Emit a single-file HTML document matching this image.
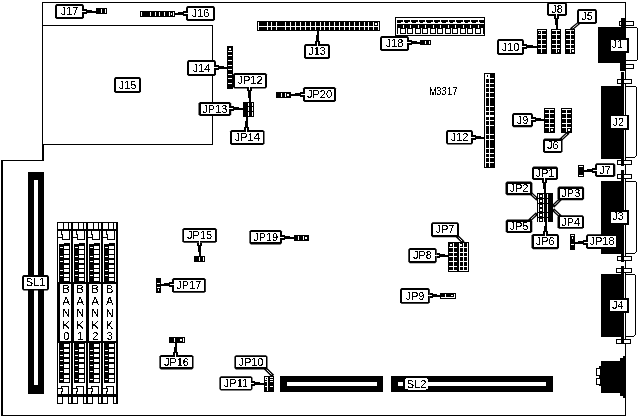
<!DOCTYPE html>
<html><head><meta charset="utf-8"><style>
html,body{margin:0;padding:0;background:#fff;width:639px;height:417px;overflow:hidden}
svg{display:block;filter:grayscale(100%)}
text{font-family:"Liberation Sans",sans-serif}
rect{shape-rendering:crispEdges}
.aa rect{shape-rendering:geometricPrecision}
</style></head><body>
<svg width="639" height="417" viewBox="0 0 639 417">
<defs><filter id="th" x="-10%" y="-10%" width="120%" height="120%"><feComponentTransfer><feFuncA type="discrete" tableValues="0 0 0 0 0 0 0 0 0 1 1 1 1 1 1 1 1 1 1 1"/></feComponentTransfer></filter></defs>
<rect x="0" y="0" width="639" height="417" fill="#fff"/>
<rect x="42" y="2" width="584" height="1" fill="#000"/>
<rect x="625" y="2" width="1" height="413" fill="#000"/>
<rect x="1" y="415" width="625" height="1" fill="#000"/>
<rect x="1" y="160" width="2" height="256" fill="#000"/>
<rect x="1" y="160" width="43" height="1" fill="#000"/>
<rect x="42" y="2" width="1" height="159" fill="#000"/>
<rect x="42" y="144" width="2" height="17" fill="#000"/>
<rect x="42" y="25" width="171" height="1" fill="#000"/>
<rect x="212" y="25" width="1" height="120" fill="#000"/>
<rect x="42" y="144" width="171" height="1" fill="#000"/>
<rect x="84" y="9" width="3" height="5" fill="#000"/>
<rect x="87" y="10" width="5" height="3" fill="#000"/>
<rect x="92" y="11" width="4" height="2" fill="#000"/>
<rect x="96" y="8" width="11" height="6" fill="#000"/>
<rect x="101" y="9" width="1" height="4" fill="#fff"/>
<rect x="105" y="9" width="1" height="4" fill="#fff"/>
<polygon points="56.5,4 82.5,4 84,5.5 84,17.5 82.5,19 56.5,19 55,17.5 55,5.5" fill="#000"/>
<rect x="57" y="6" width="25" height="11" fill="#fff"/>
<rect x="82" y="11" width="4" height="1" fill="#fff"/>
<text x="69.5" y="15.1" font-size="11" text-anchor="middle" fill="#000" filter="url(#th)" >J17</text>
<rect x="140" y="11" width="35" height="6" fill="#000"/>
<rect x="141" y="12" width="1" height="4" fill="#fff"/>
<rect x="150" y="12" width="1" height="4" fill="#fff"/>
<rect x="155" y="12" width="1" height="4" fill="#fff"/>
<rect x="159" y="12" width="1" height="4" fill="#fff"/>
<rect x="164" y="12" width="1" height="4" fill="#fff"/>
<rect x="169" y="12" width="1" height="4" fill="#fff"/>
<rect x="173" y="12" width="1" height="4" fill="#fff"/>
<rect x="171" y="13" width="1" height="2" fill="#fff"/>
<rect x="183" y="11" width="3" height="5" fill="#000"/>
<rect x="178" y="12" width="5" height="3" fill="#000"/>
<rect x="175" y="13" width="3" height="2" fill="#000"/>
<polygon points="187.5,6 213.5,6 215,7.5 215,19.5 213.5,21 187.5,21 186,19.5 186,7.5" fill="#000"/>
<rect x="188" y="8" width="25" height="11" fill="#fff"/>
<rect x="184" y="13" width="4" height="1" fill="#fff"/>
<text x="200.5" y="17.1" font-size="11" text-anchor="middle" fill="#000" filter="url(#th)" >J16</text>
<rect x="257" y="21" width="123" height="10" fill="#000"/>
<rect x="258" y="26" width="121" height="1" fill="#fff"/>
<rect x="258" y="22" width="1" height="8" fill="#fff"/>
<rect x="267" y="22" width="1" height="8" fill="#fff"/>
<rect x="271" y="22" width="1" height="8" fill="#fff"/>
<rect x="276" y="22" width="1" height="8" fill="#fff"/>
<rect x="285" y="22" width="1" height="8" fill="#fff"/>
<rect x="290" y="22" width="1" height="8" fill="#fff"/>
<rect x="295" y="22" width="1" height="8" fill="#fff"/>
<rect x="300" y="22" width="1" height="8" fill="#fff"/>
<rect x="305" y="22" width="1" height="8" fill="#fff"/>
<rect x="310" y="22" width="1" height="8" fill="#fff"/>
<rect x="315" y="22" width="1" height="8" fill="#fff"/>
<rect x="320" y="22" width="1" height="8" fill="#fff"/>
<rect x="324" y="22" width="1" height="8" fill="#fff"/>
<rect x="329" y="22" width="1" height="8" fill="#fff"/>
<rect x="334" y="22" width="1" height="8" fill="#fff"/>
<rect x="339" y="22" width="1" height="8" fill="#fff"/>
<rect x="344" y="22" width="1" height="8" fill="#fff"/>
<rect x="349" y="22" width="1" height="8" fill="#fff"/>
<rect x="354" y="22" width="1" height="8" fill="#fff"/>
<rect x="359" y="22" width="1" height="8" fill="#fff"/>
<rect x="364" y="22" width="1" height="8" fill="#fff"/>
<rect x="368" y="22" width="1" height="8" fill="#fff"/>
<rect x="373" y="22" width="1" height="8" fill="#fff"/>
<rect x="378" y="22" width="1" height="8" fill="#fff"/>
<rect x="375" y="23" width="2" height="2" fill="#fff"/>
<rect x="315" y="41" width="5" height="3" fill="#000"/>
<rect x="316" y="35" width="3" height="6" fill="#000"/>
<rect x="317" y="31" width="2" height="4" fill="#000"/>
<polygon points="305.5,44 328.5,44 330,45.5 330,57.5 328.5,59 305.5,59 304,57.5 304,45.5" fill="#000"/>
<rect x="306" y="46" width="22" height="11" fill="#fff"/>
<rect x="317" y="42" width="1" height="4" fill="#fff"/>
<text x="317.0" y="55.1" font-size="11" text-anchor="middle" fill="#000" filter="url(#th)" >J13</text>
<rect x="395" y="17" width="90" height="19" fill="#000"/>
<rect x="396" y="18" width="88" height="17" fill="#fff"/>
<rect x="397" y="20" width="87" height="3" fill="#000"/>
<rect x="397" y="24" width="87" height="10" fill="#000"/>
<rect x="403" y="20" width="1" height="2" fill="#fff"/>
<rect x="401" y="22" width="4" height="1" fill="#fff"/>
<rect x="403" y="25" width="1" height="3" fill="#fff"/>
<rect x="401" y="29" width="4" height="4" fill="#fff"/>
<rect x="406" y="28" width="1" height="6" fill="#fff"/>
<rect x="410" y="20" width="1" height="2" fill="#fff"/>
<rect x="408" y="22" width="4" height="1" fill="#fff"/>
<rect x="410" y="25" width="1" height="3" fill="#fff"/>
<rect x="408" y="29" width="4" height="4" fill="#fff"/>
<rect x="413" y="28" width="2" height="6" fill="#fff"/>
<rect x="418" y="20" width="1" height="2" fill="#fff"/>
<rect x="416" y="22" width="4" height="1" fill="#fff"/>
<rect x="418" y="25" width="1" height="3" fill="#fff"/>
<rect x="416" y="29" width="4" height="4" fill="#fff"/>
<rect x="421" y="28" width="1" height="6" fill="#fff"/>
<rect x="425" y="20" width="1" height="2" fill="#fff"/>
<rect x="423" y="22" width="4" height="1" fill="#fff"/>
<rect x="425" y="25" width="1" height="3" fill="#fff"/>
<rect x="423" y="29" width="4" height="4" fill="#fff"/>
<rect x="428" y="28" width="2" height="6" fill="#fff"/>
<rect x="433" y="20" width="1" height="2" fill="#fff"/>
<rect x="431" y="22" width="4" height="1" fill="#fff"/>
<rect x="433" y="25" width="1" height="3" fill="#fff"/>
<rect x="431" y="29" width="4" height="4" fill="#fff"/>
<rect x="436" y="28" width="1" height="6" fill="#fff"/>
<rect x="440" y="20" width="1" height="2" fill="#fff"/>
<rect x="438" y="22" width="4" height="1" fill="#fff"/>
<rect x="440" y="25" width="1" height="3" fill="#fff"/>
<rect x="438" y="29" width="4" height="4" fill="#fff"/>
<rect x="443" y="28" width="2" height="6" fill="#fff"/>
<rect x="448" y="20" width="1" height="2" fill="#fff"/>
<rect x="446" y="22" width="4" height="1" fill="#fff"/>
<rect x="448" y="25" width="1" height="3" fill="#fff"/>
<rect x="446" y="29" width="4" height="4" fill="#fff"/>
<rect x="451" y="28" width="1" height="6" fill="#fff"/>
<rect x="455" y="20" width="1" height="2" fill="#fff"/>
<rect x="453" y="22" width="4" height="1" fill="#fff"/>
<rect x="455" y="25" width="1" height="3" fill="#fff"/>
<rect x="453" y="29" width="4" height="4" fill="#fff"/>
<rect x="458" y="28" width="2" height="6" fill="#fff"/>
<rect x="463" y="20" width="1" height="2" fill="#fff"/>
<rect x="461" y="22" width="4" height="1" fill="#fff"/>
<rect x="463" y="25" width="1" height="3" fill="#fff"/>
<rect x="461" y="29" width="4" height="4" fill="#fff"/>
<rect x="466" y="28" width="1" height="6" fill="#fff"/>
<rect x="470" y="20" width="1" height="2" fill="#fff"/>
<rect x="468" y="22" width="4" height="1" fill="#fff"/>
<rect x="470" y="25" width="1" height="3" fill="#fff"/>
<rect x="468" y="29" width="4" height="4" fill="#fff"/>
<rect x="473" y="28" width="2" height="6" fill="#fff"/>
<rect x="478" y="20" width="1" height="2" fill="#fff"/>
<rect x="476" y="22" width="4" height="1" fill="#fff"/>
<rect x="478" y="25" width="1" height="3" fill="#fff"/>
<rect x="476" y="29" width="4" height="4" fill="#fff"/>
<rect x="481" y="28" width="2" height="6" fill="#fff"/>
<rect x="398" y="28" width="2" height="6" fill="#fff"/>
<rect x="409" y="40" width="3" height="5" fill="#000"/>
<rect x="412" y="41" width="5" height="3" fill="#000"/>
<rect x="417" y="42" width="3" height="2" fill="#000"/>
<rect x="420" y="40" width="11" height="5" fill="#000"/>
<rect x="425" y="41" width="1" height="3" fill="#fff"/>
<rect x="429" y="41" width="1" height="3" fill="#fff"/>
<polygon points="381.5,36 407.5,36 409,37.5 409,49.5 407.5,51 381.5,51 380,49.5 380,37.5" fill="#000"/>
<rect x="382" y="38" width="25" height="11" fill="#fff"/>
<rect x="407" y="42" width="4" height="1" fill="#fff"/>
<text x="394.5" y="47.1" font-size="11" text-anchor="middle" fill="#000" filter="url(#th)" >J18</text>
<rect x="537" y="29" width="10" height="25" fill="#000"/>
<rect x="541" y="30" width="1" height="23" fill="#fff"/>
<rect x="538" y="30" width="8" height="1" fill="#fff"/>
<rect x="538" y="34" width="8" height="1" fill="#fff"/>
<rect x="538" y="39" width="8" height="1" fill="#fff"/>
<rect x="538" y="44" width="8" height="1" fill="#fff"/>
<rect x="538" y="48" width="8" height="1" fill="#fff"/>
<rect x="539" y="32" width="1" height="1" fill="#fff"/>
<rect x="551" y="29" width="10" height="25" fill="#000"/>
<rect x="556" y="30" width="1" height="23" fill="#fff"/>
<rect x="552" y="30" width="8" height="1" fill="#fff"/>
<rect x="552" y="34" width="8" height="1" fill="#fff"/>
<rect x="552" y="39" width="8" height="1" fill="#fff"/>
<rect x="552" y="44" width="8" height="1" fill="#fff"/>
<rect x="552" y="48" width="8" height="1" fill="#fff"/>
<rect x="558" y="50" width="1" height="2" fill="#fff"/>
<rect x="565" y="29" width="10" height="25" fill="#000"/>
<rect x="570" y="30" width="1" height="23" fill="#fff"/>
<rect x="566" y="30" width="8" height="1" fill="#fff"/>
<rect x="566" y="34" width="8" height="1" fill="#fff"/>
<rect x="566" y="39" width="8" height="1" fill="#fff"/>
<rect x="566" y="44" width="8" height="1" fill="#fff"/>
<rect x="566" y="48" width="8" height="1" fill="#fff"/>
<rect x="572" y="50" width="2" height="2" fill="#fff"/>
<rect x="524" y="44" width="3" height="5" fill="#000"/>
<rect x="527" y="45" width="6" height="3" fill="#000"/>
<rect x="533" y="46" width="4" height="2" fill="#000"/>
<polygon points="498.5,39 522.5,39 524,40.5 524,53.5 522.5,55 498.5,55 497,53.5 497,40.5" fill="#000"/>
<rect x="499" y="41" width="23" height="12" fill="#fff"/>
<rect x="522" y="46" width="4" height="1" fill="#fff"/>
<text x="510.5" y="50.6" font-size="11" text-anchor="middle" fill="#000" filter="url(#th)" >J10</text>
<rect x="554" y="16" width="5" height="3" fill="#000"/>
<rect x="555" y="19" width="3" height="6" fill="#000"/>
<rect x="556" y="25" width="2" height="4" fill="#000"/>
<polygon points="548.5,2 565.5,2 567,3.5 567,14.5 565.5,16 548.5,16 547,14.5 547,3.5" fill="#000"/>
<rect x="549" y="4" width="16" height="10" fill="#fff"/>
<rect x="556" y="14" width="1" height="4" fill="#fff"/>
<text x="557.0" y="12.6" font-size="11" text-anchor="middle" fill="#000" filter="url(#th)" >J8</text>
<line x1="580.2719302356171" y1="21.8642927471389" x2="571" y2="29.5" stroke="#000" stroke-width="3.2"/>
<line x1="578.3421046465744" y1="23.45356087929165" x2="572.5438604712341" y2="28.2285854942778" stroke="#fff" stroke-width="0.9"/>
<polygon points="578.5,9 595.5,9 597,10.5 597,22.5 595.5,24 578.5,24 577,22.5 577,10.5" fill="#000"/>
<rect x="579" y="11" width="16" height="11" fill="#fff"/>
<text x="587.0" y="20.1" font-size="11" text-anchor="middle" fill="#000" filter="url(#th)" >J5</text>
<rect x="621" y="18" width="5" height="53" fill="#000"/>
<rect x="619.5" y="62" width="6.5" height="9" fill="#000"/>
<rect x="598" y="27" width="28" height="35.5" fill="#000"/>
<rect x="626" y="27" width="11" height="1" fill="#000"/>
<rect x="637" y="28" width="1" height="32" fill="#000"/>
<rect x="626" y="60" width="11" height="1" fill="#000"/>
<rect x="636" y="59.5" width="1" height="1.0" fill="#000"/>
<rect x="619" y="21" width="15" height="5" fill="#000"/>
<rect x="620" y="22" width="13" height="3" fill="#fff"/>
<rect x="621" y="21" width="5" height="5" fill="#000"/>
<rect x="619.5" y="64" width="14.5" height="5" fill="#000"/>
<rect x="620.5" y="65" width="12.5" height="3" fill="#fff"/>
<rect x="620.5" y="64" width="5.5" height="5" fill="#000"/>
<rect x="610" y="38" width="19" height="14.5" fill="#000"/>
<rect x="611" y="39.5" width="16" height="11.5" fill="#fff"/>
<text x="617.3" y="48.3" font-size="11" text-anchor="middle" fill="#000" filter="url(#th)" >J1</text>
<rect x="621" y="72" width="3" height="94" fill="#000"/>
<rect x="617" y="79" width="15" height="5" fill="#000"/>
<rect x="618" y="80" width="13" height="3" fill="#fff"/>
<rect x="621" y="79" width="3" height="5" fill="#000"/>
<rect x="601" y="86" width="23" height="73" fill="#000"/>
<rect x="626" y="86" width="10" height="1" fill="#000"/>
<rect x="636" y="87" width="1" height="69" fill="#000"/>
<rect x="635" y="156" width="1" height="1" fill="#000"/>
<rect x="626" y="157" width="9" height="1" fill="#000"/>
<rect x="617" y="160" width="15" height="5" fill="#000"/>
<rect x="618" y="161" width="13" height="3" fill="#fff"/>
<rect x="621" y="160" width="3" height="5" fill="#000"/>
<rect x="610" y="114.8" width="19" height="14.700000000000003" fill="#000"/>
<rect x="611" y="116" width="16" height="12" fill="#fff"/>
<text x="618.4" y="126" font-size="11" text-anchor="middle" fill="#000" filter="url(#th)" >J2</text>
<rect x="621" y="170" width="3" height="92" fill="#000"/>
<rect x="617" y="174" width="15" height="5" fill="#000"/>
<rect x="618" y="175" width="13" height="3" fill="#fff"/>
<rect x="621" y="174" width="3" height="5" fill="#000"/>
<rect x="601" y="181" width="23" height="73" fill="#000"/>
<rect x="626" y="181" width="10" height="1" fill="#000"/>
<rect x="636" y="182" width="1" height="70" fill="#000"/>
<rect x="635" y="252" width="1" height="1" fill="#000"/>
<rect x="626" y="253" width="9" height="1" fill="#000"/>
<rect x="617" y="256" width="15" height="5" fill="#000"/>
<rect x="618" y="257" width="13" height="3" fill="#fff"/>
<rect x="621" y="256" width="3" height="5" fill="#000"/>
<rect x="610" y="210" width="19" height="14.5" fill="#000"/>
<rect x="611" y="212" width="16" height="11" fill="#fff"/>
<text x="618" y="220.2" font-size="11" text-anchor="middle" fill="#000" filter="url(#th)" >J3</text>
<rect x="621" y="266" width="3" height="78" fill="#000"/>
<rect x="616" y="268" width="16" height="5" fill="#000"/>
<rect x="617" y="269" width="14" height="3" fill="#fff"/>
<rect x="621" y="268" width="3" height="5" fill="#000"/>
<rect x="601" y="274" width="23" height="63" fill="#000"/>
<rect x="626" y="274" width="9" height="1" fill="#000"/>
<rect x="635" y="275" width="1" height="60" fill="#000"/>
<rect x="634" y="335" width="1" height="1" fill="#000"/>
<rect x="626" y="336" width="8" height="1" fill="#000"/>
<rect x="616" y="339" width="15" height="5" fill="#000"/>
<rect x="617" y="340" width="13" height="3" fill="#fff"/>
<rect x="621" y="339" width="3" height="5" fill="#000"/>
<rect x="609" y="298.3" width="20" height="14.399999999999977" fill="#000"/>
<rect x="610" y="300" width="17" height="11" fill="#fff"/>
<text x="617.8" y="309" font-size="11" text-anchor="middle" fill="#000" filter="url(#th)" >J4</text>
<rect x="601" y="361" width="24" height="32" fill="#000"/>
<rect x="619.5" y="358" width="5.5" height="38" fill="#000"/>
<rect x="622.5" y="356" width="2.5" height="42" fill="#000"/>
<rect x="598.5" y="366" width="2.5" height="20" fill="#000"/>
<rect x="596" y="368" width="5" height="8" fill="#000"/>
<rect x="597" y="369" width="3" height="6" fill="#fff"/>
<rect x="596" y="378" width="5" height="7" fill="#000"/>
<rect x="597" y="379" width="3" height="5" fill="#fff"/>
<rect x="227" y="46" width="6" height="43" fill="#000"/>
<rect x="229" y="48" width="2" height="2" fill="#fff"/>
<rect x="228" y="51" width="4" height="1" fill="#fff"/>
<rect x="228" y="55" width="4" height="1" fill="#fff"/>
<rect x="228" y="60" width="4" height="1" fill="#fff"/>
<rect x="228" y="65" width="4" height="1" fill="#fff"/>
<rect x="228" y="69" width="4" height="1" fill="#fff"/>
<rect x="228" y="74" width="4" height="1" fill="#fff"/>
<rect x="228" y="78" width="4" height="1" fill="#fff"/>
<rect x="228" y="83" width="4" height="1" fill="#fff"/>
<rect x="216" y="65" width="3" height="5" fill="#000"/>
<rect x="219" y="66" width="5" height="3" fill="#000"/>
<rect x="224" y="67" width="3" height="2" fill="#000"/>
<polygon points="188.5,60 214.5,60 216,61.5 216,74.5 214.5,76 188.5,76 187,74.5 187,61.5" fill="#000"/>
<rect x="189" y="62" width="25" height="12" fill="#fff"/>
<rect x="214" y="67" width="4" height="1" fill="#fff"/>
<text x="201.5" y="71.6" font-size="11" text-anchor="middle" fill="#000" filter="url(#th)" >J14</text>
<rect x="247" y="88" width="5" height="3" fill="#000"/>
<rect x="248" y="91" width="3" height="7" fill="#000"/>
<rect x="249" y="98" width="2" height="4" fill="#000"/>
<polygon points="234.5,73 265.5,73 267,74.5 267,87.0 265.5,88.5 234.5,88.5 233,87.0 233,74.5" fill="#000"/>
<rect x="235" y="75" width="30" height="11.5" fill="#fff"/>
<rect x="249" y="86" width="1" height="4" fill="#fff"/>
<text x="250.0" y="84.35" font-size="11" text-anchor="middle" fill="#000" filter="url(#th)" >JP12</text>
<rect x="243" y="102" width="11" height="15" fill="#000"/>
<rect x="248" y="103" width="1" height="3" fill="#fff"/>
<rect x="248" y="107" width="1" height="4" fill="#fff"/>
<rect x="248" y="112" width="1" height="4" fill="#fff"/>
<rect x="252" y="103" width="1" height="3" fill="#fff"/>
<rect x="252" y="107" width="1" height="4" fill="#fff"/>
<rect x="252" y="112" width="1" height="4" fill="#fff"/>
<rect x="231" y="106" width="3" height="5" fill="#000"/>
<rect x="234" y="107" width="5" height="3" fill="#000"/>
<rect x="239" y="108" width="4" height="2" fill="#000"/>
<polygon points="200.0,102 229.7,102 231.2,103.5 231.2,114.5 229.7,116 200.0,116 198.5,114.5 198.5,103.5" fill="#000"/>
<rect x="200.5" y="104" width="28.69999999999999" height="10" fill="#fff"/>
<rect x="229" y="108" width="4" height="1" fill="#fff"/>
<text x="214.85" y="112.6" font-size="11" text-anchor="middle" fill="#000" filter="url(#th)" >JP13</text>
<rect x="244" y="127" width="5" height="3" fill="#000"/>
<rect x="245" y="121" width="3" height="6" fill="#000"/>
<rect x="246" y="117" width="2" height="4" fill="#000"/>
<polygon points="231.5,130 263.0,130 264.5,131.5 264.5,143.5 263.0,145 231.5,145 230,143.5 230,131.5" fill="#000"/>
<rect x="232" y="132" width="30.5" height="11" fill="#fff"/>
<rect x="246" y="128" width="1" height="4" fill="#fff"/>
<text x="247.25" y="141.1" font-size="11" text-anchor="middle" fill="#000" filter="url(#th)" >JP14</text>
<polygon points="115.5,77 139.5,77 141,78.5 141,91.5 139.5,93 115.5,93 114,91.5 114,78.5" fill="#000"/>
<rect x="116" y="79" width="23" height="12" fill="#fff"/>
<text x="127.5" y="88.6" font-size="11" text-anchor="middle" fill="#000" filter="url(#th)" >J15</text>
<rect x="276" y="92" width="15" height="6" fill="#000"/>
<rect x="281" y="93" width="1" height="4" fill="#fff"/>
<rect x="285" y="93" width="1" height="4" fill="#fff"/>
<rect x="287" y="94" width="2" height="2" fill="#fff"/>
<rect x="300" y="92" width="3" height="5" fill="#000"/>
<rect x="295" y="93" width="5" height="3" fill="#000"/>
<rect x="291" y="94" width="4" height="2" fill="#000"/>
<polygon points="304.5,87 334.5,87 336,88.5 336,100.5 334.5,102 304.5,102 303,100.5 303,88.5" fill="#000"/>
<rect x="305" y="89" width="29" height="11" fill="#fff"/>
<rect x="301" y="94" width="4" height="1" fill="#fff"/>
<text x="319.5" y="98.1" font-size="11" text-anchor="middle" fill="#000" filter="url(#th)" >JP20</text>
<text x="433" y="94.8" font-size="10" text-anchor="middle" fill="#000" filter="url(#th)" textLength="8" lengthAdjust="spacingAndGlyphs">M</text>
<text x="438.9" y="94.8" font-size="10" text-anchor="middle" fill="#000" filter="url(#th)" >3</text>
<text x="444.1" y="94.8" font-size="10" text-anchor="middle" fill="#000" filter="url(#th)" >3</text>
<text x="449.6" y="94.8" font-size="10" text-anchor="middle" fill="#000" filter="url(#th)" >1</text>
<text x="455" y="94.8" font-size="10" text-anchor="middle" fill="#000" filter="url(#th)" >7</text>
<rect x="484" y="73" width="11" height="95" fill="#000"/>
<rect x="485" y="74" width="1" height="93" fill="#fff"/>
<rect x="489" y="74" width="1" height="93" fill="#fff"/>
<rect x="486" y="74" width="3" height="4" fill="#fff"/>
<rect x="487" y="75" width="1" height="2" fill="#000"/>
<rect x="486" y="78" width="8" height="1" fill="#fff"/>
<rect x="486" y="83" width="8" height="1" fill="#fff"/>
<rect x="486" y="87" width="8" height="1" fill="#fff"/>
<rect x="486" y="92" width="8" height="1" fill="#fff"/>
<rect x="486" y="97" width="8" height="1" fill="#fff"/>
<rect x="486" y="106" width="8" height="1" fill="#fff"/>
<rect x="486" y="111" width="8" height="1" fill="#fff"/>
<rect x="486" y="120" width="8" height="1" fill="#fff"/>
<rect x="486" y="125" width="8" height="1" fill="#fff"/>
<rect x="486" y="134" width="8" height="1" fill="#fff"/>
<rect x="486" y="139" width="8" height="1" fill="#fff"/>
<rect x="486" y="148" width="8" height="1" fill="#fff"/>
<rect x="486" y="153" width="8" height="1" fill="#fff"/>
<rect x="486" y="157" width="8" height="1" fill="#fff"/>
<rect x="486" y="162" width="8" height="1" fill="#fff"/>
<rect x="486" y="115" width="8" height="2" fill="#fff"/>
<rect x="473" y="135" width="3" height="5" fill="#000"/>
<rect x="476" y="136" width="5" height="3" fill="#000"/>
<rect x="481" y="137" width="3" height="2" fill="#000"/>
<polygon points="447.5,130 471.5,130 473,131.5 473,143.0 471.5,144.5 447.5,144.5 446,143.0 446,131.5" fill="#000"/>
<rect x="448" y="132" width="23" height="10.5" fill="#fff"/>
<rect x="471" y="137" width="4" height="1" fill="#fff"/>
<text x="459.5" y="140.85" font-size="11" text-anchor="middle" fill="#000" filter="url(#th)" >J12</text>
<rect x="544" y="108" width="11" height="25" fill="#000"/>
<rect x="549" y="109" width="1" height="23" fill="#fff"/>
<rect x="545" y="109" width="9" height="1" fill="#fff"/>
<rect x="545" y="113" width="9" height="1" fill="#fff"/>
<rect x="545" y="118" width="9" height="1" fill="#fff"/>
<rect x="545" y="123" width="9" height="1" fill="#fff"/>
<rect x="545" y="127" width="9" height="1" fill="#fff"/>
<rect x="551" y="129" width="2" height="2" fill="#fff"/>
<rect x="561" y="108" width="11" height="25" fill="#000"/>
<rect x="566" y="109" width="1" height="23" fill="#fff"/>
<rect x="562" y="109" width="9" height="1" fill="#fff"/>
<rect x="562" y="113" width="9" height="1" fill="#fff"/>
<rect x="562" y="118" width="9" height="1" fill="#fff"/>
<rect x="562" y="123" width="9" height="1" fill="#fff"/>
<rect x="562" y="127" width="9" height="1" fill="#fff"/>
<rect x="568" y="129" width="2" height="2" fill="#fff"/>
<rect x="533" y="117" width="3" height="5" fill="#000"/>
<rect x="536" y="118" width="5" height="3" fill="#000"/>
<rect x="541" y="119" width="3" height="2" fill="#000"/>
<polygon points="513.5,113 531.5,113 533,114.5 533,125.8 531.5,127.3 513.5,127.3 512,125.8 512,114.5" fill="#000"/>
<rect x="514" y="115" width="17" height="10.299999999999997" fill="#fff"/>
<rect x="531" y="119" width="4" height="1" fill="#fff"/>
<text x="522.5" y="123.75" font-size="11" text-anchor="middle" fill="#000" filter="url(#th)" >J9</text>
<line x1="560.2689447317572" y1="140.18231825036" x2="568.5" y2="132.5" stroke="#000" stroke-width="3.2"/>
<line x1="562.0965829023643" y1="138.47652262446" x2="567.0378894635143" y2="133.86463650072002" stroke="#fff" stroke-width="0.9"/>
<polygon points="544.5,138.5 561.0,138.5 562.5,140.0 562.5,151.5 561.0,153 544.5,153 543,151.5 543,140.0" fill="#000"/>
<rect x="545" y="140.5" width="15.5" height="10.5" fill="#fff"/>
<text x="552.75" y="149.35" font-size="11" text-anchor="middle" fill="#000" filter="url(#th)" >J6</text>
<rect x="578" y="165" width="6" height="12" fill="#000"/>
<rect x="579" y="166" width="4" height="1" fill="#fff"/>
<rect x="579" y="175" width="4" height="1" fill="#fff"/>
<rect x="592" y="168" width="3" height="5" fill="#000"/>
<rect x="587" y="169" width="5" height="3" fill="#000"/>
<rect x="584" y="170" width="3" height="2" fill="#000"/>
<polygon points="596.5,163.3 613.8,163.3 615.3,164.8 615.3,175.5 613.8,177 596.5,177 595,175.5 595,164.8" fill="#000"/>
<rect x="597" y="165.3" width="16.299999999999955" height="9.699999999999989" fill="#fff"/>
<rect x="593" y="170" width="4" height="1" fill="#fff"/>
<text x="605.15" y="173.75" font-size="11" text-anchor="middle" fill="#000" filter="url(#th)" >J7</text>
<rect x="537" y="193" width="16" height="29" fill="#000"/>
<rect x="538" y="194" width="1" height="4" fill="#fff"/>
<rect x="540" y="195" width="2" height="2" fill="#fff"/>
<rect x="543" y="194" width="1" height="4" fill="#fff"/>
<rect x="547" y="194" width="1" height="4" fill="#fff"/>
<rect x="538" y="199" width="1" height="4" fill="#fff"/>
<rect x="540" y="200" width="2" height="2" fill="#fff"/>
<rect x="543" y="199" width="1" height="4" fill="#fff"/>
<rect x="547" y="199" width="1" height="4" fill="#fff"/>
<rect x="538" y="204" width="1" height="4" fill="#fff"/>
<rect x="540" y="205" width="2" height="2" fill="#fff"/>
<rect x="543" y="204" width="1" height="4" fill="#fff"/>
<rect x="547" y="204" width="1" height="4" fill="#fff"/>
<rect x="538" y="208" width="1" height="4" fill="#fff"/>
<rect x="540" y="209" width="2" height="2" fill="#fff"/>
<rect x="543" y="208" width="1" height="4" fill="#fff"/>
<rect x="547" y="208" width="1" height="4" fill="#fff"/>
<rect x="538" y="213" width="1" height="4" fill="#fff"/>
<rect x="540" y="214" width="2" height="2" fill="#fff"/>
<rect x="543" y="213" width="1" height="4" fill="#fff"/>
<rect x="547" y="213" width="1" height="4" fill="#fff"/>
<rect x="538" y="218" width="1" height="4" fill="#fff"/>
<rect x="540" y="219" width="2" height="2" fill="#fff"/>
<rect x="543" y="218" width="1" height="4" fill="#fff"/>
<rect x="547" y="218" width="1" height="4" fill="#fff"/>
<rect x="542" y="180" width="5" height="3" fill="#000"/>
<rect x="543" y="183" width="3" height="6" fill="#000"/>
<rect x="544" y="189" width="2" height="4" fill="#000"/>
<polygon points="533.5,166.5 556.5,166.5 558,168.0 558,178.5 556.5,180 533.5,180 532,178.5 532,168.0" fill="#000"/>
<rect x="534" y="168.5" width="22" height="9.5" fill="#fff"/>
<rect x="544" y="178" width="1" height="4" fill="#fff"/>
<text x="545.0" y="176.85" font-size="11" text-anchor="middle" fill="#000" filter="url(#th)" >JP1</text>
<line x1="530.2651965553725" y1="192.82171989726695" x2="537.5" y2="199.5" stroke="#000" stroke-width="3.2"/>
<line x1="532.1022051669412" y1="194.5174201540996" x2="536.0303931107451" y2="198.14343979453386" stroke="#fff" stroke-width="0.9"/>
<polygon points="507.0,181.6 530.9,181.6 532.4,183.1 532.4,193.7 530.9,195.2 507.0,195.2 505.5,193.7 505.5,183.1" fill="#000"/>
<rect x="507.5" y="183.6" width="22.899999999999977" height="9.599999999999994" fill="#fff"/>
<text x="518.95" y="191.99999999999997" font-size="11" text-anchor="middle" fill="#000" filter="url(#th)" >JP2</text>
<line x1="560.7071067811866" y1="198.79289321881345" x2="553" y2="206.5" stroke="#000" stroke-width="3.2"/>
<line x1="558.9393398282202" y1="200.56066017177983" x2="554.4142135623731" y2="205.0857864376269" stroke="#fff" stroke-width="0.9"/>
<polygon points="559.0,186.6 582.6,186.6 584.1,188.1 584.1,198.8 582.6,200.3 559.0,200.3 557.5,198.8 557.5,188.1" fill="#000"/>
<rect x="559.5" y="188.6" width="22.600000000000023" height="9.700000000000017" fill="#fff"/>
<text x="570.8" y="197.04999999999998" font-size="11" text-anchor="middle" fill="#000" filter="url(#th)" >JP3</text>
<line x1="529.2672065083736" y1="220.68045109936727" x2="537" y2="213.5" stroke="#000" stroke-width="3.2"/>
<line x1="531.0991902374394" y1="218.97932335094907" x2="535.5344130167474" y2="214.86090219873455" stroke="#fff" stroke-width="0.9"/>
<polygon points="507.2,219.5 530.8,219.5 532.3,221.0 532.3,231.6 530.8,233.1 507.2,233.1 505.7,231.6 505.7,221.0" fill="#000"/>
<rect x="507.7" y="221.5" width="22.599999999999966" height="9.599999999999994" fill="#fff"/>
<text x="519.0" y="229.9" font-size="11" text-anchor="middle" fill="#000" filter="url(#th)" >JP5</text>
<line x1="560.7327934916264" y1="216.68045109936727" x2="553" y2="209.5" stroke="#000" stroke-width="3.2"/>
<line x1="558.9008097625606" y1="214.97932335094907" x2="554.4655869832526" y2="210.86090219873455" stroke="#fff" stroke-width="0.9"/>
<polygon points="559.0,215.2 582.5,215.2 584,216.7 584,227.3 582.5,228.8 559.0,228.8 557.5,227.3 557.5,216.7" fill="#000"/>
<rect x="559.5" y="217.2" width="22.5" height="9.600000000000023" fill="#fff"/>
<text x="570.75" y="225.6" font-size="11" text-anchor="middle" fill="#000" filter="url(#th)" >JP4</text>
<rect x="543" y="231" width="5" height="3" fill="#000"/>
<rect x="544" y="226" width="3" height="5" fill="#000"/>
<rect x="545" y="222" width="2" height="4" fill="#000"/>
<polygon points="533.0,234 557.5,234 559,235.5 559,247.8 557.5,249.3 533.0,249.3 531.5,247.8 531.5,235.5" fill="#000"/>
<rect x="533.5" y="236" width="23.5" height="11.300000000000011" fill="#fff"/>
<rect x="545" y="232" width="1" height="4" fill="#fff"/>
<text x="545.25" y="245.25" font-size="11" text-anchor="middle" fill="#000" filter="url(#th)" >JP6</text>
<rect x="570" y="234" width="5" height="16" fill="#000"/>
<rect x="571" y="235" width="3" height="1" fill="#fff"/>
<rect x="572" y="237" width="1" height="2" fill="#fff"/>
<rect x="571" y="244" width="3" height="1" fill="#fff"/>
<rect x="583" y="240" width="3" height="5" fill="#000"/>
<rect x="578" y="241" width="5" height="3" fill="#000"/>
<rect x="575" y="242" width="3" height="2" fill="#000"/>
<polygon points="587.5,234.3 616.5,234.3 618,235.8 618,247.5 616.5,249 587.5,249 586,247.5 586,235.8" fill="#000"/>
<rect x="588" y="236.3" width="28" height="10.699999999999989" fill="#fff"/>
<rect x="584" y="242" width="4" height="1" fill="#fff"/>
<text x="602.0" y="245.25" font-size="11" text-anchor="middle" fill="#000" filter="url(#th)" >JP18</text>
<rect x="194" y="256" width="11" height="6" fill="#000"/>
<rect x="199" y="257" width="1" height="4" fill="#fff"/>
<rect x="203" y="257" width="1" height="4" fill="#fff"/>
<rect x="197" y="243" width="5" height="3" fill="#000"/>
<rect x="198" y="246" width="3" height="6" fill="#000"/>
<rect x="199" y="252" width="2" height="4" fill="#000"/>
<polygon points="183.8,228.1 215.4,228.1 216.9,229.6 216.9,241.3 215.4,242.8 183.8,242.8 182.3,241.3 182.3,229.6" fill="#000"/>
<rect x="184.3" y="230.1" width="30.599999999999994" height="10.700000000000017" fill="#fff"/>
<rect x="199" y="241" width="1" height="4" fill="#fff"/>
<text x="199.60000000000002" y="239.04999999999998" font-size="11" text-anchor="middle" fill="#000" filter="url(#th)" >JP15</text>
<rect x="294" y="235" width="15" height="6" fill="#000"/>
<rect x="298" y="236" width="1" height="4" fill="#fff"/>
<rect x="303" y="236" width="1" height="4" fill="#fff"/>
<rect x="305" y="237" width="2" height="2" fill="#fff"/>
<rect x="282" y="235" width="3" height="5" fill="#000"/>
<rect x="285" y="236" width="5" height="3" fill="#000"/>
<rect x="290" y="237" width="4" height="2" fill="#000"/>
<polygon points="250.9,230 280.5,230 282,231.5 282,242.9 280.5,244.4 250.9,244.4 249.4,242.9 249.4,231.5" fill="#000"/>
<rect x="251.4" y="232" width="28.599999999999994" height="10.400000000000006" fill="#fff"/>
<rect x="280" y="237" width="4" height="1" fill="#fff"/>
<text x="265.7" y="240.79999999999998" font-size="11" text-anchor="middle" fill="#000" filter="url(#th)" >JP19</text>
<rect x="156" y="278" width="5" height="15" fill="#000"/>
<rect x="157" y="283" width="3" height="1" fill="#fff"/>
<rect x="157" y="287" width="3" height="1" fill="#fff"/>
<rect x="158" y="289" width="1" height="2" fill="#fff"/>
<rect x="169" y="282" width="3" height="5" fill="#000"/>
<rect x="164" y="283" width="5" height="3" fill="#000"/>
<rect x="161" y="284" width="3" height="2" fill="#000"/>
<polygon points="173.5,278 204.3,278 205.8,279.5 205.8,291.3 204.3,292.8 173.5,292.8 172,291.3 172,279.5" fill="#000"/>
<rect x="174" y="280" width="29.80000000000001" height="10.800000000000011" fill="#fff"/>
<rect x="170" y="284" width="4" height="1" fill="#fff"/>
<text x="188.9" y="289.0" font-size="11" text-anchor="middle" fill="#000" filter="url(#th)" >JP17</text>
<rect x="169" y="337" width="16" height="6" fill="#000"/>
<rect x="174" y="338" width="1" height="4" fill="#fff"/>
<rect x="180" y="339" width="2" height="2" fill="#fff"/>
<rect x="183" y="338" width="1" height="4" fill="#fff"/>
<rect x="173" y="352" width="5" height="3" fill="#000"/>
<rect x="174" y="347" width="3" height="5" fill="#000"/>
<rect x="175" y="343" width="2" height="4" fill="#000"/>
<polygon points="160.9,355 192.0,355 193.5,356.5 193.5,367.9 192.0,369.4 160.9,369.4 159.4,367.9 159.4,356.5" fill="#000"/>
<rect x="161.4" y="357" width="30.099999999999994" height="10.399999999999977" fill="#fff"/>
<rect x="175" y="353" width="1" height="4" fill="#fff"/>
<text x="176.45" y="365.8" font-size="11" text-anchor="middle" fill="#000" filter="url(#th)" >JP16</text>
<rect x="264" y="376" width="10" height="16" fill="#000"/>
<rect x="267" y="377" width="1" height="14" fill="#fff"/>
<rect x="265" y="377" width="2" height="3" fill="#fff"/>
<rect x="265.5" y="378" width="1.0" height="1" fill="#000"/>
<rect x="265" y="381" width="2" height="1" fill="#fff"/>
<rect x="265" y="386" width="2" height="1" fill="#fff"/>
<rect x="270" y="377" width="3" height="1" fill="#fff"/>
<rect x="270" y="379" width="3" height="1" fill="#fff"/>
<rect x="270" y="381" width="3" height="1" fill="#fff"/>
<rect x="270" y="386" width="3" height="1" fill="#fff"/>
<line x1="264.79289321881345" y1="367.79289321881345" x2="273" y2="376" stroke="#000" stroke-width="3.2"/>
<line x1="266.56066017177983" y1="369.56066017177983" x2="271.5857864376269" y2="374.5857864376269" stroke="#fff" stroke-width="0.9"/>
<polygon points="235.9,355.2 266.0,355.2 267.5,356.7 267.5,367.9 266.0,369.4 235.9,369.4 234.4,367.9 234.4,356.7" fill="#000"/>
<rect x="236.4" y="357.2" width="29.099999999999994" height="10.199999999999989" fill="#fff"/>
<text x="250.95" y="365.9" font-size="11" text-anchor="middle" fill="#000" filter="url(#th)" >JP10</text>
<rect x="252" y="381" width="3" height="5" fill="#000"/>
<rect x="255" y="382" width="5" height="3" fill="#000"/>
<rect x="260" y="383" width="4" height="2" fill="#000"/>
<polygon points="220.9,376.2 251.0,376.2 252.5,377.7 252.5,389.1 251.0,390.6 220.9,390.6 219.4,389.1 219.4,377.7" fill="#000"/>
<rect x="221.4" y="378.2" width="29.099999999999994" height="10.400000000000034" fill="#fff"/>
<rect x="250" y="383" width="4" height="1" fill="#fff"/>
<text x="235.95" y="387.0" font-size="11" text-anchor="middle" fill="#000" filter="url(#th)" >JP11</text>
<rect x="28" y="172" width="16" height="221.5" fill="#000"/>
<rect x="34" y="180" width="4" height="205.3" fill="#fff"/>
<polygon points="23.5,275 47.5,275 49,276.5 49,289.0 47.5,290.5 23.5,290.5 22,289.0 22,276.5" fill="#000"/>
<rect x="24" y="277" width="23" height="11.5" fill="#fff"/>
<text x="35.5" y="286.35" font-size="11" text-anchor="middle" fill="#000" filter="url(#th)" >SL1</text>
<rect x="280" y="376" width="103" height="16" fill="#000"/>
<rect x="287" y="382" width="90" height="4" fill="#fff"/>
<rect x="391" y="376" width="162.20000000000005" height="16" fill="#000"/>
<rect x="398" y="382" width="5" height="4" fill="#fff"/>
<rect x="428" y="382" width="118" height="4" fill="#fff"/>
<rect x="405" y="378" width="23" height="11.5" rx="2.5" fill="#fff"/>
<text x="416.5" y="388" font-size="11" text-anchor="middle" fill="#000" filter="url(#th)" >SL2</text>
<rect x="448" y="242" width="21" height="30" fill="#000"/>
<rect x="453" y="243" width="1" height="28" fill="#fff"/>
<rect x="459" y="243" width="1" height="28" fill="#fff"/>
<rect x="463" y="243" width="1" height="28" fill="#fff"/>
<rect x="467" y="243" width="1" height="28" fill="#fff"/>
<rect x="449" y="247" width="8" height="1" fill="#fff"/>
<rect x="459" y="247" width="9" height="1" fill="#fff"/>
<rect x="449" y="252" width="8" height="1" fill="#fff"/>
<rect x="459" y="252" width="9" height="1" fill="#fff"/>
<rect x="449" y="256" width="8" height="1" fill="#fff"/>
<rect x="459" y="256" width="9" height="1" fill="#fff"/>
<rect x="449" y="261" width="8" height="1" fill="#fff"/>
<rect x="459" y="261" width="9" height="1" fill="#fff"/>
<rect x="449" y="266" width="8" height="1" fill="#fff"/>
<rect x="459" y="266" width="9" height="1" fill="#fff"/>
<rect x="449" y="270" width="8" height="1" fill="#fff"/>
<rect x="459" y="270" width="9" height="1" fill="#fff"/>
<rect x="450" y="244" width="2" height="2" fill="#fff"/>
<rect x="460" y="244" width="2" height="2" fill="#fff"/>
<line x1="456.79289321881345" y1="235.79289321881345" x2="463.5" y2="242.5" stroke="#000" stroke-width="3.2"/>
<line x1="458.56066017177983" y1="237.56066017177983" x2="462.0857864376269" y2="241.0857864376269" stroke="#fff" stroke-width="0.9"/>
<polygon points="432.5,222.2 457.5,222.2 459,223.7 459,235.8 457.5,237.3 432.5,237.3 431,235.8 431,223.7" fill="#000"/>
<rect x="433" y="224.2" width="24" height="11.100000000000023" fill="#fff"/>
<text x="445.0" y="233.35" font-size="11" text-anchor="middle" fill="#000" filter="url(#th)" >JP7</text>
<rect x="437" y="253" width="3" height="5" fill="#000"/>
<rect x="440" y="254" width="5" height="3" fill="#000"/>
<rect x="445" y="255" width="3" height="2" fill="#000"/>
<polygon points="409.8,248.1 435.2,248.1 436.7,249.6 436.7,261.7 435.2,263.2 409.8,263.2 408.3,261.7 408.3,249.6" fill="#000"/>
<rect x="410.3" y="250.1" width="24.399999999999977" height="11.099999999999994" fill="#fff"/>
<rect x="435" y="255" width="4" height="1" fill="#fff"/>
<text x="422.5" y="259.25" font-size="11" text-anchor="middle" fill="#000" filter="url(#th)" >JP8</text>
<rect x="440" y="293" width="16" height="6" fill="#000"/>
<rect x="441" y="297" width="14" height="1" fill="#fff"/>
<rect x="445" y="294" width="1" height="3" fill="#fff"/>
<rect x="454" y="294" width="1" height="3" fill="#fff"/>
<rect x="451" y="295" width="2" height="1" fill="#fff"/>
<rect x="430" y="293" width="3" height="5" fill="#000"/>
<rect x="433" y="294" width="4" height="3" fill="#000"/>
<rect x="437" y="295" width="3" height="2" fill="#000"/>
<polygon points="401.5,288.1 428.3,288.1 429.8,289.6 429.8,302.3 428.3,303.8 401.5,303.8 400,302.3 400,289.6" fill="#000"/>
<rect x="402" y="290.1" width="25.80000000000001" height="11.699999999999989" fill="#fff"/>
<rect x="428" y="295" width="4" height="1" fill="#fff"/>
<text x="414.9" y="299.55000000000007" font-size="11" text-anchor="middle" fill="#000" filter="url(#th)" >JP9</text>
<rect x="57" y="222" width="61" height="182" fill="#000"/>
<rect x="58" y="223" width="5" height="6" fill="#fff"/>
<rect x="64" y="223" width="4" height="6" fill="#fff"/>
<rect x="69" y="223" width="2" height="6" fill="#fff"/>
<rect x="58" y="231" width="13" height="12" fill="#fff"/>
<rect x="61" y="231" width="1" height="4" fill="#000"/>
<rect x="61" y="234" width="2" height="1" fill="#000"/>
<rect x="58" y="237" width="4" height="1" fill="#000"/>
<rect x="62" y="234" width="1" height="6" fill="#000"/>
<rect x="62" y="239" width="8" height="1" fill="#000"/>
<rect x="69" y="231" width="1" height="9" fill="#000"/>
<rect x="58" y="243" width="13" height="39" fill="#fff"/>
<rect x="59" y="244" width="11" height="38" fill="#000"/>
<rect x="64" y="243" width="6" height="1" fill="#000"/>
<rect x="64" y="246" width="5" height="3" fill="#fff"/>
<rect x="64" y="250" width="5" height="4" fill="#fff"/>
<rect x="64" y="255" width="5" height="3" fill="#fff"/>
<rect x="64" y="260" width="5" height="3" fill="#fff"/>
<rect x="64" y="265" width="5" height="3" fill="#fff"/>
<rect x="64" y="269" width="5" height="3" fill="#fff"/>
<rect x="64" y="274" width="5" height="3" fill="#fff"/>
<rect x="64" y="278" width="5" height="3" fill="#fff"/>
<rect x="60" y="247" width="3" height="1" fill="#fff"/>
<rect x="60" y="256" width="3" height="1" fill="#fff"/>
<rect x="60" y="261" width="3" height="1" fill="#fff"/>
<rect x="60" y="270" width="3" height="1" fill="#fff"/>
<rect x="60" y="275" width="3" height="1" fill="#fff"/>
<rect x="60" y="284" width="12" height="57" fill="#fff"/>
<text x="66.2" y="293.2" font-size="11" text-anchor="middle" fill="#000" filter="url(#th)" >B</text>
<text x="66.2" y="305.0" font-size="11" text-anchor="middle" fill="#000" filter="url(#th)" >A</text>
<text x="66.2" y="316.8" font-size="11" text-anchor="middle" fill="#000" filter="url(#th)" >N</text>
<text x="66.2" y="328.6" font-size="11" text-anchor="middle" fill="#000" filter="url(#th)" >K</text>
<text x="66.2" y="340.4" font-size="11" text-anchor="middle" fill="#000" filter="url(#th)" >0</text>
<rect x="58" y="343" width="1" height="40" fill="#fff"/>
<rect x="70" y="343" width="1" height="40" fill="#fff"/>
<rect x="64" y="344" width="5" height="3" fill="#fff"/>
<rect x="64" y="349" width="5" height="3" fill="#fff"/>
<rect x="64" y="354" width="5" height="3" fill="#fff"/>
<rect x="64" y="359" width="5" height="3" fill="#fff"/>
<rect x="64" y="364" width="5" height="4" fill="#fff"/>
<rect x="64" y="369" width="5" height="4" fill="#fff"/>
<rect x="64" y="375" width="5" height="3" fill="#fff"/>
<rect x="64" y="379" width="5" height="3" fill="#fff"/>
<rect x="60" y="350" width="3" height="1" fill="#fff"/>
<rect x="60" y="355" width="3" height="1" fill="#fff"/>
<rect x="60" y="360" width="3" height="1" fill="#fff"/>
<rect x="60" y="365" width="3" height="1" fill="#fff"/>
<rect x="60" y="371" width="3" height="1" fill="#fff"/>
<rect x="60" y="379" width="3" height="1" fill="#fff"/>
<rect x="58" y="383" width="13" height="11" fill="#fff"/>
<rect x="61" y="386" width="8" height="1" fill="#000"/>
<rect x="68" y="386" width="1" height="8" fill="#000"/>
<rect x="61" y="386" width="1" height="3" fill="#000"/>
<rect x="58" y="388" width="5" height="1" fill="#000"/>
<rect x="62" y="388" width="1" height="4" fill="#000"/>
<rect x="61" y="391" width="2" height="1" fill="#000"/>
<rect x="61" y="391" width="1" height="3" fill="#000"/>
<rect x="58" y="397" width="4" height="6" fill="#fff"/>
<rect x="63" y="397" width="5" height="7" fill="#fff"/>
<rect x="69" y="397" width="2" height="6" fill="#fff"/>
<rect x="73" y="223" width="5" height="6" fill="#fff"/>
<rect x="79" y="223" width="4" height="6" fill="#fff"/>
<rect x="84" y="223" width="2" height="6" fill="#fff"/>
<rect x="73" y="231" width="13" height="12" fill="#fff"/>
<rect x="76" y="231" width="1" height="4" fill="#000"/>
<rect x="76" y="234" width="2" height="1" fill="#000"/>
<rect x="73" y="237" width="4" height="1" fill="#000"/>
<rect x="77" y="234" width="1" height="6" fill="#000"/>
<rect x="77" y="239" width="8" height="1" fill="#000"/>
<rect x="84" y="231" width="1" height="9" fill="#000"/>
<rect x="73" y="243" width="13" height="39" fill="#fff"/>
<rect x="74" y="244" width="11" height="38" fill="#000"/>
<rect x="79" y="243" width="6" height="1" fill="#000"/>
<rect x="79" y="246" width="5" height="3" fill="#fff"/>
<rect x="79" y="250" width="5" height="4" fill="#fff"/>
<rect x="79" y="255" width="5" height="3" fill="#fff"/>
<rect x="79" y="260" width="5" height="3" fill="#fff"/>
<rect x="79" y="265" width="5" height="3" fill="#fff"/>
<rect x="79" y="269" width="5" height="3" fill="#fff"/>
<rect x="79" y="274" width="5" height="3" fill="#fff"/>
<rect x="79" y="278" width="5" height="3" fill="#fff"/>
<rect x="75" y="247" width="3" height="1" fill="#fff"/>
<rect x="75" y="256" width="3" height="1" fill="#fff"/>
<rect x="75" y="261" width="3" height="1" fill="#fff"/>
<rect x="75" y="270" width="3" height="1" fill="#fff"/>
<rect x="75" y="275" width="3" height="1" fill="#fff"/>
<rect x="74" y="284" width="12" height="57" fill="#fff"/>
<text x="80.2" y="293.2" font-size="11" text-anchor="middle" fill="#000" filter="url(#th)" >B</text>
<text x="80.2" y="305.0" font-size="11" text-anchor="middle" fill="#000" filter="url(#th)" >A</text>
<text x="80.2" y="316.8" font-size="11" text-anchor="middle" fill="#000" filter="url(#th)" >N</text>
<text x="80.2" y="328.6" font-size="11" text-anchor="middle" fill="#000" filter="url(#th)" >K</text>
<text x="80.2" y="340.4" font-size="11" text-anchor="middle" fill="#000" filter="url(#th)" >1</text>
<rect x="73" y="343" width="1" height="40" fill="#fff"/>
<rect x="85" y="343" width="1" height="40" fill="#fff"/>
<rect x="79" y="344" width="5" height="3" fill="#fff"/>
<rect x="79" y="349" width="5" height="3" fill="#fff"/>
<rect x="79" y="354" width="5" height="3" fill="#fff"/>
<rect x="79" y="359" width="5" height="3" fill="#fff"/>
<rect x="79" y="364" width="5" height="4" fill="#fff"/>
<rect x="79" y="369" width="5" height="4" fill="#fff"/>
<rect x="79" y="375" width="5" height="3" fill="#fff"/>
<rect x="79" y="379" width="5" height="3" fill="#fff"/>
<rect x="75" y="350" width="3" height="1" fill="#fff"/>
<rect x="75" y="355" width="3" height="1" fill="#fff"/>
<rect x="75" y="360" width="3" height="1" fill="#fff"/>
<rect x="75" y="365" width="3" height="1" fill="#fff"/>
<rect x="75" y="371" width="3" height="1" fill="#fff"/>
<rect x="75" y="379" width="3" height="1" fill="#fff"/>
<rect x="73" y="383" width="13" height="11" fill="#fff"/>
<rect x="76" y="386" width="8" height="1" fill="#000"/>
<rect x="83" y="386" width="1" height="8" fill="#000"/>
<rect x="76" y="386" width="1" height="3" fill="#000"/>
<rect x="73" y="388" width="5" height="1" fill="#000"/>
<rect x="77" y="388" width="1" height="4" fill="#000"/>
<rect x="76" y="391" width="2" height="1" fill="#000"/>
<rect x="76" y="391" width="1" height="3" fill="#000"/>
<rect x="73" y="397" width="4" height="6" fill="#fff"/>
<rect x="78" y="397" width="5" height="7" fill="#fff"/>
<rect x="84" y="397" width="2" height="6" fill="#fff"/>
<rect x="88" y="223" width="5" height="6" fill="#fff"/>
<rect x="94" y="223" width="4" height="6" fill="#fff"/>
<rect x="99" y="223" width="2" height="6" fill="#fff"/>
<rect x="88" y="231" width="13" height="12" fill="#fff"/>
<rect x="91" y="231" width="1" height="4" fill="#000"/>
<rect x="91" y="234" width="2" height="1" fill="#000"/>
<rect x="88" y="237" width="4" height="1" fill="#000"/>
<rect x="92" y="234" width="1" height="6" fill="#000"/>
<rect x="92" y="239" width="8" height="1" fill="#000"/>
<rect x="99" y="231" width="1" height="9" fill="#000"/>
<rect x="88" y="243" width="13" height="39" fill="#fff"/>
<rect x="89" y="244" width="11" height="38" fill="#000"/>
<rect x="94" y="243" width="6" height="1" fill="#000"/>
<rect x="94" y="246" width="5" height="3" fill="#fff"/>
<rect x="94" y="250" width="5" height="4" fill="#fff"/>
<rect x="94" y="255" width="5" height="3" fill="#fff"/>
<rect x="94" y="260" width="5" height="3" fill="#fff"/>
<rect x="94" y="265" width="5" height="3" fill="#fff"/>
<rect x="94" y="269" width="5" height="3" fill="#fff"/>
<rect x="94" y="274" width="5" height="3" fill="#fff"/>
<rect x="94" y="278" width="5" height="3" fill="#fff"/>
<rect x="90" y="247" width="3" height="1" fill="#fff"/>
<rect x="90" y="256" width="3" height="1" fill="#fff"/>
<rect x="90" y="261" width="3" height="1" fill="#fff"/>
<rect x="90" y="270" width="3" height="1" fill="#fff"/>
<rect x="90" y="275" width="3" height="1" fill="#fff"/>
<rect x="89" y="284" width="12" height="57" fill="#fff"/>
<text x="95.2" y="293.2" font-size="11" text-anchor="middle" fill="#000" filter="url(#th)" >B</text>
<text x="95.2" y="305.0" font-size="11" text-anchor="middle" fill="#000" filter="url(#th)" >A</text>
<text x="95.2" y="316.8" font-size="11" text-anchor="middle" fill="#000" filter="url(#th)" >N</text>
<text x="95.2" y="328.6" font-size="11" text-anchor="middle" fill="#000" filter="url(#th)" >K</text>
<text x="95.2" y="340.4" font-size="11" text-anchor="middle" fill="#000" filter="url(#th)" >2</text>
<rect x="88" y="343" width="1" height="40" fill="#fff"/>
<rect x="100" y="343" width="1" height="40" fill="#fff"/>
<rect x="94" y="344" width="5" height="3" fill="#fff"/>
<rect x="94" y="349" width="5" height="3" fill="#fff"/>
<rect x="94" y="354" width="5" height="3" fill="#fff"/>
<rect x="94" y="359" width="5" height="3" fill="#fff"/>
<rect x="94" y="364" width="5" height="4" fill="#fff"/>
<rect x="94" y="369" width="5" height="4" fill="#fff"/>
<rect x="94" y="375" width="5" height="3" fill="#fff"/>
<rect x="94" y="379" width="5" height="3" fill="#fff"/>
<rect x="90" y="350" width="3" height="1" fill="#fff"/>
<rect x="90" y="355" width="3" height="1" fill="#fff"/>
<rect x="90" y="360" width="3" height="1" fill="#fff"/>
<rect x="90" y="365" width="3" height="1" fill="#fff"/>
<rect x="90" y="371" width="3" height="1" fill="#fff"/>
<rect x="90" y="379" width="3" height="1" fill="#fff"/>
<rect x="88" y="383" width="13" height="11" fill="#fff"/>
<rect x="91" y="386" width="8" height="1" fill="#000"/>
<rect x="98" y="386" width="1" height="8" fill="#000"/>
<rect x="91" y="386" width="1" height="3" fill="#000"/>
<rect x="88" y="388" width="5" height="1" fill="#000"/>
<rect x="92" y="388" width="1" height="4" fill="#000"/>
<rect x="91" y="391" width="2" height="1" fill="#000"/>
<rect x="91" y="391" width="1" height="3" fill="#000"/>
<rect x="88" y="397" width="4" height="6" fill="#fff"/>
<rect x="93" y="397" width="5" height="7" fill="#fff"/>
<rect x="99" y="397" width="2" height="6" fill="#fff"/>
<rect x="103" y="223" width="5" height="6" fill="#fff"/>
<rect x="109" y="223" width="4" height="6" fill="#fff"/>
<rect x="114" y="223" width="2" height="6" fill="#fff"/>
<rect x="103" y="231" width="13" height="12" fill="#fff"/>
<rect x="106" y="231" width="1" height="4" fill="#000"/>
<rect x="106" y="234" width="2" height="1" fill="#000"/>
<rect x="103" y="237" width="4" height="1" fill="#000"/>
<rect x="107" y="234" width="1" height="6" fill="#000"/>
<rect x="107" y="239" width="8" height="1" fill="#000"/>
<rect x="114" y="231" width="1" height="9" fill="#000"/>
<rect x="103" y="243" width="13" height="39" fill="#fff"/>
<rect x="104" y="244" width="11" height="38" fill="#000"/>
<rect x="109" y="243" width="6" height="1" fill="#000"/>
<rect x="109" y="246" width="5" height="3" fill="#fff"/>
<rect x="109" y="250" width="5" height="4" fill="#fff"/>
<rect x="109" y="255" width="5" height="3" fill="#fff"/>
<rect x="109" y="260" width="5" height="3" fill="#fff"/>
<rect x="109" y="265" width="5" height="3" fill="#fff"/>
<rect x="109" y="269" width="5" height="3" fill="#fff"/>
<rect x="109" y="274" width="5" height="3" fill="#fff"/>
<rect x="109" y="278" width="5" height="3" fill="#fff"/>
<rect x="105" y="247" width="3" height="1" fill="#fff"/>
<rect x="105" y="256" width="3" height="1" fill="#fff"/>
<rect x="105" y="261" width="3" height="1" fill="#fff"/>
<rect x="105" y="270" width="3" height="1" fill="#fff"/>
<rect x="105" y="275" width="3" height="1" fill="#fff"/>
<rect x="103" y="284" width="13" height="57" fill="#fff"/>
<text x="109.7" y="293.2" font-size="11" text-anchor="middle" fill="#000" filter="url(#th)" >B</text>
<text x="109.7" y="305.0" font-size="11" text-anchor="middle" fill="#000" filter="url(#th)" >A</text>
<text x="109.7" y="316.8" font-size="11" text-anchor="middle" fill="#000" filter="url(#th)" >N</text>
<text x="109.7" y="328.6" font-size="11" text-anchor="middle" fill="#000" filter="url(#th)" >K</text>
<text x="109.7" y="340.4" font-size="11" text-anchor="middle" fill="#000" filter="url(#th)" >3</text>
<rect x="103" y="343" width="1" height="40" fill="#fff"/>
<rect x="115" y="343" width="1" height="40" fill="#fff"/>
<rect x="109" y="344" width="5" height="3" fill="#fff"/>
<rect x="109" y="349" width="5" height="3" fill="#fff"/>
<rect x="109" y="354" width="5" height="3" fill="#fff"/>
<rect x="109" y="359" width="5" height="3" fill="#fff"/>
<rect x="109" y="364" width="5" height="4" fill="#fff"/>
<rect x="109" y="369" width="5" height="4" fill="#fff"/>
<rect x="109" y="375" width="5" height="3" fill="#fff"/>
<rect x="109" y="379" width="5" height="3" fill="#fff"/>
<rect x="105" y="350" width="3" height="1" fill="#fff"/>
<rect x="105" y="355" width="3" height="1" fill="#fff"/>
<rect x="105" y="360" width="3" height="1" fill="#fff"/>
<rect x="105" y="365" width="3" height="1" fill="#fff"/>
<rect x="105" y="371" width="3" height="1" fill="#fff"/>
<rect x="105" y="379" width="3" height="1" fill="#fff"/>
<rect x="103" y="383" width="13" height="11" fill="#fff"/>
<rect x="106" y="386" width="8" height="1" fill="#000"/>
<rect x="113" y="386" width="1" height="8" fill="#000"/>
<rect x="106" y="386" width="1" height="3" fill="#000"/>
<rect x="103" y="388" width="5" height="1" fill="#000"/>
<rect x="107" y="388" width="1" height="4" fill="#000"/>
<rect x="106" y="391" width="2" height="1" fill="#000"/>
<rect x="106" y="391" width="1" height="3" fill="#000"/>
<rect x="103" y="397" width="4" height="6" fill="#fff"/>
<rect x="108" y="397" width="5" height="7" fill="#fff"/>
<rect x="114" y="397" width="2" height="6" fill="#fff"/>
<rect x="71" y="222" width="2" height="182" fill="#000"/>
<rect x="118" y="220" width="3" height="186" fill="#fff"/>
</svg>
</body></html>
